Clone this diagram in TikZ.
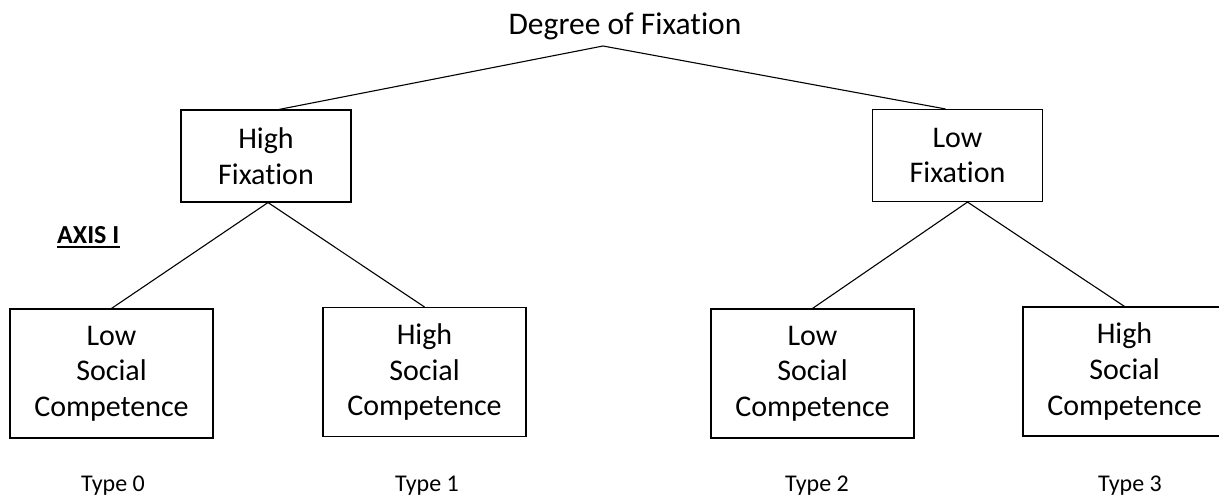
\documentclass[tikz,border=0pt]{standalone}
\usepackage{fontspec}
\setmainfont{Carlito}[Ligatures=NoCommon]
\begin{document}
\begin{tikzpicture}[x=1pt,y=-1pt,
  box/.style={draw=black, line width=1.1pt, align=center, inner sep=0pt, font=\fontsize{30}{35.6}\selectfont},
  topbox/.style={box, minimum width=170pt, minimum height=92pt},
  leafbox/.style={box, minimum width=203pt, minimum height=129pt},
  typelabel/.style={font=\fontsize{24}{28}\selectfont, anchor=base, inner sep=0pt},
  conn/.style={line width=1.1pt}]
\useasboundingbox (0,0) rectangle (1219,495);
\fill[white] (0,0) rectangle (1219,495);
\node[font=\fontsize{31.5}{36}\selectfont, anchor=base, inner sep=0pt] (dof) at (625,35) {Degree of Fixation};
\coordinate (apex) at (603,46);
\node[topbox] (hf) at (266,156) {High\\Fixation};
\node[topbox] (lf) at (957.5,155.5) {Low\\Fixation};
\node[leafbox] (l0) at (111.5,373.5) {Low\\Social\\Competence};
\node[leafbox] (l1) at (424.5,372) {High\\Social\\Competence};
\node[leafbox] (l2) at (812.5,373.5) {Low\\Social\\Competence};
\node[leafbox] (l3) at (1124.5,371.5) {High\\Social\\Competence};
\node[typelabel] (t0) at (113,491) {Type 0};
\node[typelabel] (t1) at (427,491) {Type 1};
\node[typelabel] (t2) at (817,491) {Type 2};
\node[typelabel] (t3) at (1130,491) {Type 3};
\node[anchor=base west, inner sep=0pt, font=\bfseries\fontsize{26}{30}\selectfont] (axis) at (57,243) {AXIS I};
\draw[line width=2pt] ([yshift=-4pt]axis.base west) -- ([yshift=-4pt]axis.base east);
\draw[conn] ([xshift=13pt]hf.north) -- (apex) -- ([xshift=-12pt]lf.north);
\draw[conn] (l0.north) -- ([xshift=2pt]hf.south) -- (l1.north);
\draw[conn] (l2.north) -- ([xshift=10pt]lf.south) -- (l3.north);
\end{tikzpicture}
\end{document}
